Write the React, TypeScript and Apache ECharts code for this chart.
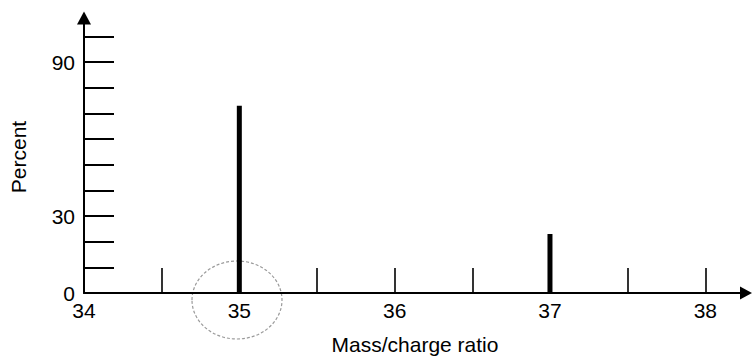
import React, { useEffect, useRef } from "react";
import * as echarts from "echarts";

const massValues = [35, 37];
const percentValues = [73, 23];
const xTickValues = [34.5, 35, 35.5, 36, 36.5, 37, 37.5, 38];
const xLabelValues = [34, 35, 36, 37, 38];
const yTickValues = [10, 20, 30, 40, 50, 60, 70, 80, 90, 100];
const yLabelValues = [0, 30, 90];

export default function App() {
  const ref = useRef<HTMLDivElement>(null);
  useEffect(() => {
    if (!ref.current) return;
    const chart = echarts.init(ref.current, null, { renderer: "svg" });
    const font = "'Liberation Sans', Arial, sans-serif";
    chart.setOption({
      animation: false,
      backgroundColor: "#ffffff",
      grid: { left: 79, right: 8, top: 21, bottom: 66 },
      xAxis: {
        type: "value",
        min: 34,
        max: 38.262,
        name: "Mass/charge ratio",
        nameLocation: "middle",
        nameGap: 41,
        nameTextStyle: { color: "#000", fontSize: 21, fontFamily: font },
        splitLine: { show: false },
        axisLine: {
          show: true,
          symbol: ["none", "triangle"],
          symbolSize: [13, 12],
          lineStyle: { color: "#000", width: 2 },
        },
        axisTick: {
          show: true,
          inside: true,
          length: 25,
          customValues: xTickValues,
          lineStyle: { color: "#000", width: 1.6 },
        },
        axisLabel: {
          customValues: xLabelValues,
          color: "#000",
          fontSize: 21,
          fontFamily: font,
          margin: 7,
        },
      },
      yAxis: {
        type: "value",
        min: 0,
        max: 106,
        name: "Percent",
        nameLocation: "middle",
        nameGap: 55,
        nameRotate: 90,
        nameTextStyle: { color: "#000", fontSize: 21, fontFamily: font },
        splitLine: { show: false },
        axisLine: {
          show: true,
          symbol: ["none", "triangle"],
          symbolSize: [14, 13],
          symbolOffset: [0, 3],
          lineStyle: { color: "#000", width: 2 },
        },
        axisTick: {
          show: true,
          inside: true,
          length: 30,
          customValues: yTickValues,
          lineStyle: { color: "#000", width: 2 },
        },
        axisLabel: {
          customValues: yLabelValues,
          color: "#000",
          fontSize: 21,
          fontFamily: font,
          margin: 9,
        },
      },
      series: [
        {
          type: "bar",
          data: massValues.map((m, i) => [m, percentValues[i]]),
          barWidth: 5,
          itemStyle: { color: "#000" },
        },
      ],
      graphic: [
        {
          type: "ellipse",
          shape: { cx: 237, cy: 300, rx: 45, ry: 39 },
          style: { fill: "none", stroke: "#9a9a9a", lineWidth: 1.2, lineDash: [3, 2] },
          silent: true,
        },
      ],
    });
    return () => chart.dispose();
  }, []);
  return (
    <div
      ref={ref}
      style={{ position: "fixed", left: 0, top: 0, width: 754, height: 360 }}
    />
  );
}
